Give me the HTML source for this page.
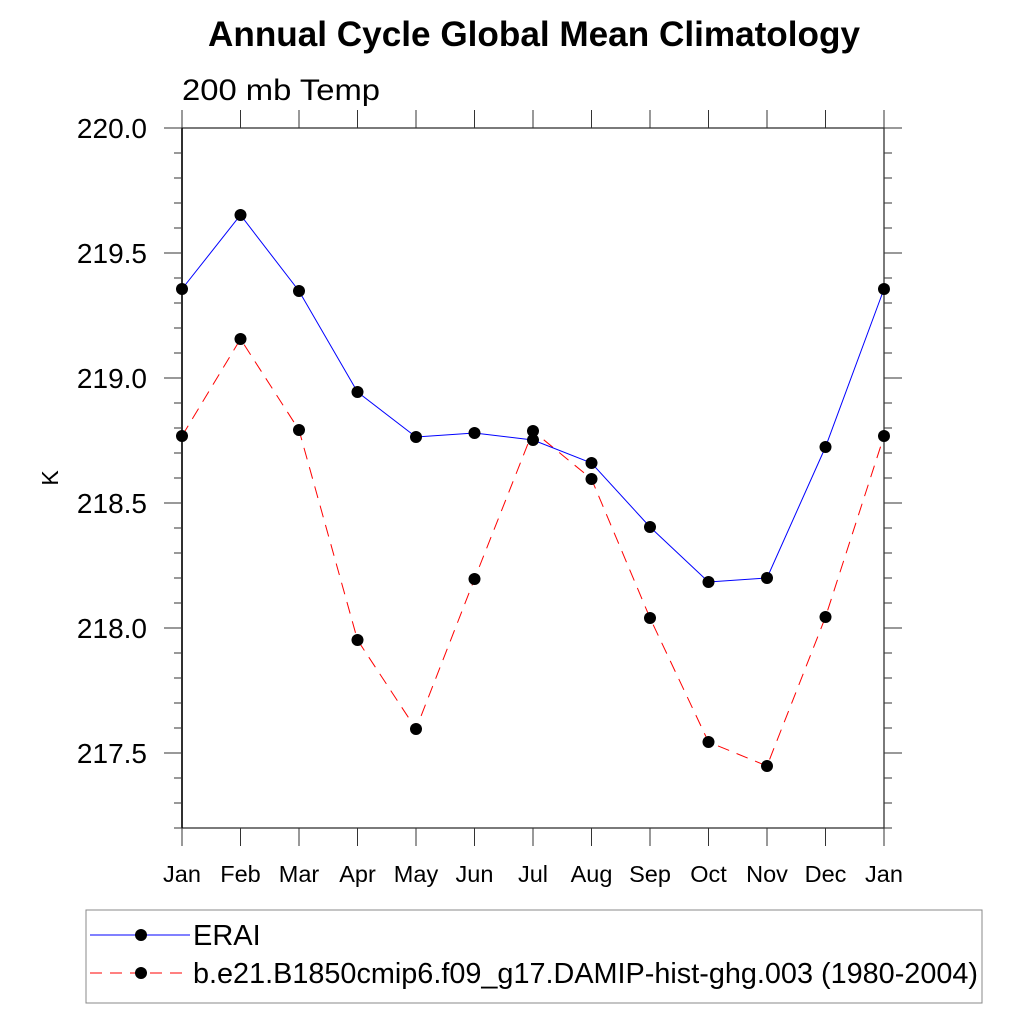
<!DOCTYPE html>
<html><head><meta charset="utf-8"><style>
body{margin:0;background:#fff;}
svg text{font-family:"Liberation Sans",Arial,sans-serif;}
</style></head><body>
<svg id="chart" width="1024" height="1024" viewBox="0 0 1024 1024" xmlns="http://www.w3.org/2000/svg">
<text x="534" y="46" text-anchor="middle" font-size="35" font-weight="bold" textLength="652" lengthAdjust="spacingAndGlyphs">Annual Cycle Global Mean Climatology</text>
<text x="182" y="100" font-size="30" textLength="198" lengthAdjust="spacingAndGlyphs">200 mb Temp</text>
<text x="58" y="478" font-size="23" text-anchor="middle" transform="rotate(-90 58 478)">K</text>
<g id="axes"></g>
<g id="series"></g>
<rect x="86" y="910" width="896" height="93" fill="none" stroke="#888" stroke-width="1"/>
<g>
<line x1="90" y1="935" x2="190" y2="935" stroke="#0000ff" stroke-width="1"/>
<circle cx="141" cy="935" r="6" fill="#000"/>
<text x="193" y="945" font-size="29">ERAI</text>
</g>
<g>
<line x1="90" y1="973" x2="190" y2="973" stroke="#ff0000" stroke-width="1" stroke-dasharray="12,8"/>
<circle cx="141" cy="973" r="6" fill="#000"/>
<text x="193" y="983" font-size="29" textLength="785" lengthAdjust="spacingAndGlyphs">b.e21.B1850cmip6.f09_g17.DAMIP-hist-ghg.003 (1980-2004)</text>
</g>
</svg>
<script>
const months=["Jan","Feb","Mar","Apr","May","Jun","Jul","Aug","Sep","Oct","Nov","Dec","Jan"];
const eraiValues=[219.356,219.652,219.348,218.944,218.764,218.78,218.752,218.66,218.404,218.184,218.2,218.724,219.356];
const modelValues=[218.768,219.156,218.792,217.952,217.596,218.196,218.788,218.596,218.04,217.544,217.448,218.044,218.768];
const yTickLabels=["217.5","218.0","218.5","219.0","219.5","220.0"];
const X0=182,X1=884,Y0=128,Y1=828,YMAX=220.0,YMIN=217.2;
const NS="http://www.w3.org/2000/svg";
function xs(i){return X0+i*(X1-X0)/(months.length-1);}
function ys(v){return Y0+(YMAX-v)/(YMAX-YMIN)*(Y1-Y0);}
function mk(t,a,p){const e=document.createElementNS(NS,t);for(const k in a)e.setAttribute(k,a[k]);p.appendChild(e);return e;}
const axes=document.getElementById('axes');
const frame=mk('rect',{x:X0,y:Y0,width:X1-X0,height:Y1-Y0,fill:'none',stroke:'#333','stroke-width':1.3},axes);


mk('line',{x1:X0,y1:Y0,x2:X0,y2:Y1,stroke:'#000','stroke-width':1.5},axes);
months.forEach((m,i)=>{
 const x=xs(i);
 mk('line',{x1:x,y1:Y1,x2:x,y2:Y1+18,stroke:'#333'},axes);
 mk('line',{x1:x,y1:Y0,x2:x,y2:Y0-18,stroke:'#333'},axes);
 const t=mk('text',{x:x,y:Y1+54,'text-anchor':'middle','font-size':23.5},axes);
 t.textContent=m;
 
 
});
for(let k=0;k<=28;k++){
 const v=YMIN+k*0.1;const y=ys(v);const major=(k%5===3);
 const L=major?18:8;
 mk('line',{x1:X0,y1:y,x2:X0-L,y2:y,stroke:'#333'},axes);
 mk('line',{x1:X1,y1:y,x2:X1+L,y2:y,stroke:'#333'},axes);
}
yTickLabels.forEach(s=>{
 const t=mk('text',{x:147,y:ys(parseFloat(s))+10,'text-anchor':'end','font-size':28},axes);
 t.textContent=s;
 
 
});
const ser=document.getElementById('series');
function draw(vals,color,dash,name){
 const g=mk('g',{},ser);
 
 
 const pts=vals.map((v,i)=>xs(i)+','+ys(v)).join(' ');
 const a={points:pts,fill:'none',stroke:color,'stroke-width':1};
 if(dash)a['stroke-dasharray']=dash;
 mk('polyline',a,g);
 vals.forEach((v,i)=>{
  const c=mk('circle',{cx:xs(i),cy:ys(v),r:6,fill:'#000'},g);
  
  
 });
}
draw(modelValues,'#ff0000','12,8','model-series');
draw(eraiValues,'#0000ff',null,'erai-series');
</script>
</body></html>
